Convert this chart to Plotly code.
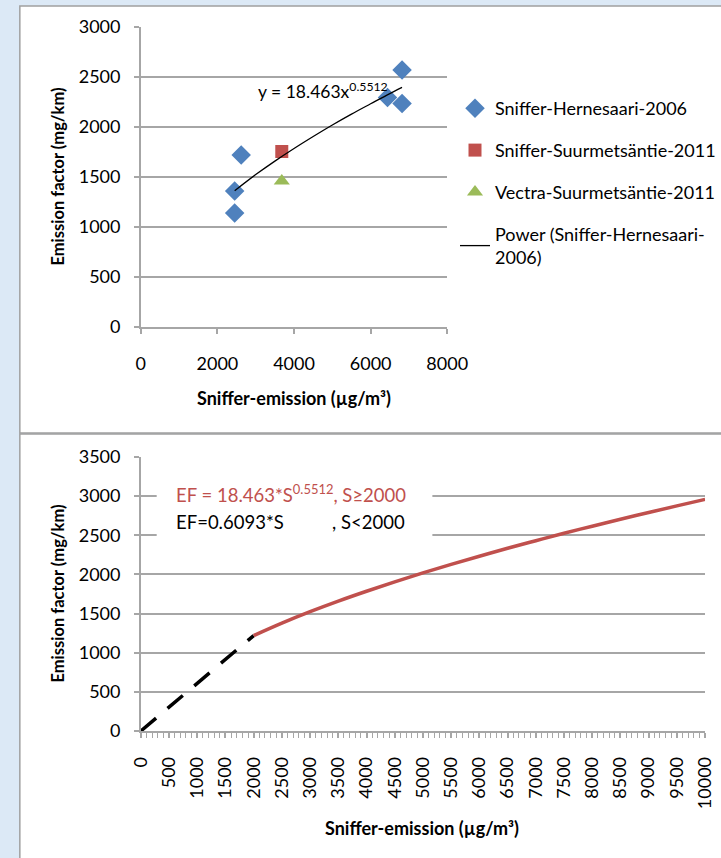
import plotly.graph_objects as go

W, H = 721, 858

# ---------------- data: top chart ----------------
hern_s = [2450, 2450, 2620, 6440, 6820, 6820]
hern_ef = [1140, 1360, 1720, 2295, 2570, 2235]
suur_s = [3680]
suur_ef = [1755]
vect_s = [3680]
vect_ef = [1460]
trend_s = [2450, 3000, 3500, 4000, 4500, 5000, 5500, 6000, 6500, 6820]
trend_ef = [1363, 1524, 1659, 1785, 1905, 2020, 2129, 2232, 2334, 2396]
top_xticks = [0, 2000, 4000, 6000, 8000]
top_yticks = [0, 500, 1000, 1500, 2000, 2500, 3000]

# ---------------- data: bottom chart ----------------
low_s = [0, 2000]
low_ef = [0, 1219]
high_s = [2000, 2500, 3000, 3500, 4000, 4500, 5000, 5500, 6000,
          6500, 7000, 7500, 8000, 8500, 9000, 9500, 10000]
high_ef = [1219, 1378, 1524, 1659, 1785, 1905, 2020, 2129, 2232,
           2334, 2431, 2526, 2616, 2705, 2791, 2876, 2959]
bot_xticks = [0, 500, 1000, 1500, 2000, 2500, 3000, 3500, 4000, 4500, 5000,
              5500, 6000, 6500, 7000, 7500, 8000, 8500, 9000, 9500, 10000]
bot_xlabels = [str(v) for v in bot_xticks]
bot_yticks = [0, 500, 1000, 1500, 2000, 2500, 3000, 3500]

FONT = "Lato, 'Open Sans', sans-serif"
GRID = "#a6a6a6"
BLUE = "#4f81bd"
RED = "#c0504d"
GREEN = "#9bbb59"


def fx(px):
    return px / W


def fy(py):
    return 1 - py / H


fig = go.Figure()

fig.add_trace(go.Scatter(x=hern_s, y=hern_ef, mode="markers", name="Sniffer-Hernesaari-2006",
                         legendgroup="a",
                         marker=dict(symbol="diamond", size=15, color=BLUE),
                         xaxis="x", yaxis="y"))
fig.add_trace(go.Scatter(x=suur_s, y=suur_ef, mode="markers", name="Sniffer-Suurmetsäntie-2011",
                         legendgroup="b",
                         marker=dict(symbol="square", size=13, color=RED),
                         xaxis="x", yaxis="y"))
fig.add_trace(go.Scatter(x=vect_s, y=vect_ef, mode="markers", name="Vectra-Suurmetsäntie-2011",
                         legendgroup="c",
                         marker=dict(symbol="triangle-up", size=14, color=GREEN),
                         xaxis="x", yaxis="y"))
fig.add_trace(go.Scatter(x=trend_s, y=trend_ef, mode="lines", name="Power (Sniffer-Hernesaari-<br>2006)",
                         legendgroup="d", line=dict(color="black", width=1.3, shape="spline"),
                         xaxis="x", yaxis="y"))

fig.add_trace(go.Scatter(x=low_s, y=low_ef, mode="lines", showlegend=False,
                         line=dict(color="black", width=3.5, dash="20px,15px"),
                         xaxis="x2", yaxis="y2"))
fig.add_trace(go.Scatter(x=high_s, y=high_ef, mode="lines", showlegend=False,
                         line=dict(color=RED, width=3.5, shape="spline"),
                         xaxis="x2", yaxis="y2"))

axis_common = dict(showline=True, linecolor=GRID, linewidth=1.5, ticks="outside", ticklen=5,
                   tickcolor=GRID, tickwidth=1.5, zeroline=False, automargin=False,
                   tickfont=dict(family=FONT, size=18, color="black"))

fig.update_layout(
    width=W, height=H,
    margin=dict(l=0, r=0, t=0, b=0),
    paper_bgcolor="#dce9f6",
    plot_bgcolor="white",
    font=dict(family=FONT, size=18, color="black"),
    xaxis=dict(domain=[fx(142), fx(451)], range=[0, 8000], tickvals=top_xticks,
               showgrid=False, anchor="y", ticklabelstandoff=15, **axis_common),
    yaxis=dict(domain=[fy(327), fy(27)], range=[0, 3000], tickvals=top_yticks,
               showgrid=True, gridcolor=GRID, gridwidth=1.5, anchor="x",
               ticklabelstandoff=10, **axis_common),
    xaxis2=dict(domain=[fx(142), fx(711)], range=[0, 10000], tickvals=bot_xticks,
                ticktext=bot_xlabels,
                tickangle=-90, showgrid=False, anchor="y2", ticklabelstandoff=12,
                minor=dict(dtick=100, ticks="outside", ticklen=5, tickcolor=GRID, tickwidth=1),
                **axis_common),
    yaxis2=dict(domain=[fy(731), fy(457)], range=[0, 3500], tickvals=bot_yticks,
                showgrid=True, gridcolor=GRID, gridwidth=1.5, anchor="x2",
                ticklabelstandoff=10, **axis_common),
    legend=dict(x=fx(459), y=fy(90), xanchor="left", yanchor="top",
                bgcolor="rgba(0,0,0,0)", traceorder="grouped", tracegroupgap=15.5,
                font=dict(family=FONT, size=18, color="black"), itemwidth=30),
    showlegend=True,
)

shapes = [
    dict(type="rect", xref="paper", yref="paper", x0=fx(20), x1=fx(730), y0=fy(433), y1=fy(6),
         fillcolor="white", line=dict(color="#a0a0a0", width=1.5), layer="below"),
    dict(type="rect", xref="paper", yref="paper", x0=fx(20), x1=fx(730), y0=fy(866), y1=fy(434),
         fillcolor="white", line=dict(color="#a0a0a0", width=1.5), layer="below"),
    dict(type="rect", xref="paper", yref="paper", x0=fx(158), x1=fx(436), y0=fy(541), y1=fy(476),
         fillcolor="white", line=dict(width=0), layer="above"),
]
fig.update_layout(shapes=shapes)

ann = [
    dict(text="y = 18.463x<sup>0.5512</sup>", x=fx(258), y=fy(90), xanchor="left", yanchor="middle",
         font=dict(family=FONT, size=17.5, color="black")),
    dict(text="<b>Emission factor (mg/km)</b>", x=fx(58), y=fy(177), textangle=-90,
         xanchor="center", yanchor="middle", font=dict(family=FONT, size=16.5, color="black")),
    dict(text="<b>Sniffer-emission (µg/m³)</b>", x=fx(296), y=fy(398),
         xanchor="center", yanchor="middle", font=dict(family=FONT, size=18, color="black")),
    dict(text="<b>Emission factor (mg/km)</b>", x=fx(58), y=fy(594), textangle=-90,
         xanchor="center", yanchor="middle", font=dict(family=FONT, size=16.5, color="black")),
    dict(text="<b>Sniffer-emission (µg/m³)</b>", x=fx(426), y=fy(828),
         xanchor="center", yanchor="middle", font=dict(family=FONT, size=18, color="black")),
    dict(text="EF = 18.463*S<sup>0.5512</sup>, S≥2000", x=fx(175), y=fy(493), xanchor="left",
         yanchor="middle", font=dict(family=FONT, size=18.5, color=RED)),
    dict(text="EF=0.6093*S", x=fx(175), y=fy(522), xanchor="left",
         yanchor="middle", font=dict(family=FONT, size=18.5, color="black")),
    dict(text=", S<2000", x=fx(410), y=fy(522), xanchor="right",
         yanchor="middle", font=dict(family=FONT, size=18.5, color="black")),
]
for a in ann:
    a.update(xref="paper", yref="paper", showarrow=False)
fig.update_layout(annotations=ann)

fig.write_html("out.html")
